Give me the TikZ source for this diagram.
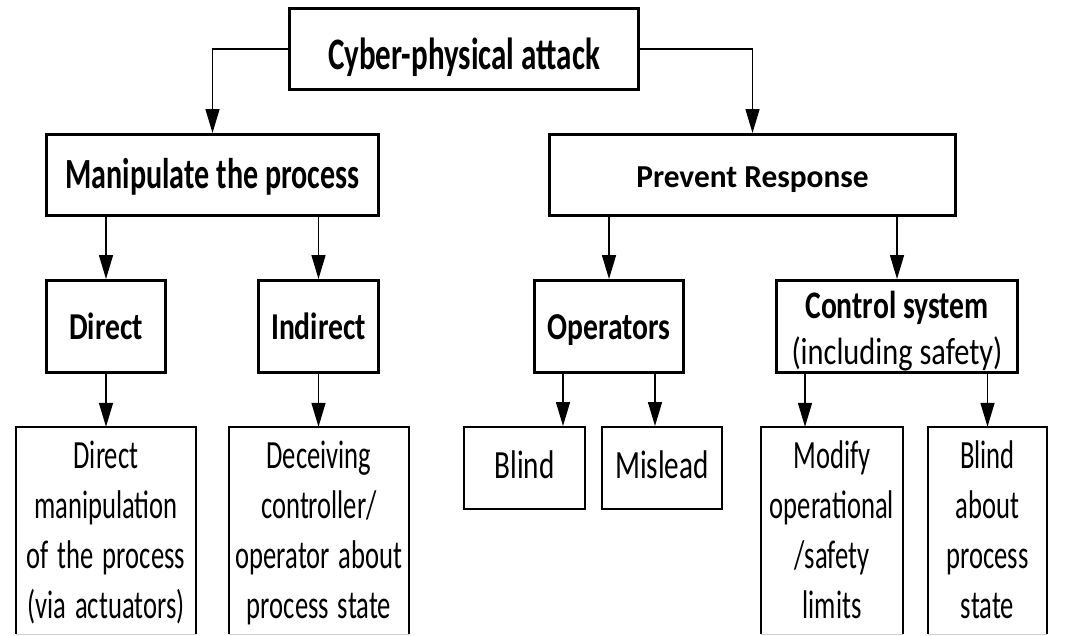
\documentclass[tikz,border=0pt]{standalone}
\usepackage{fontspec}
\setmainfont{Carlito}
\usetikzlibrary{arrows.meta,calc}
\newcommand\hsq[2]{\scalebox{#1}[1]{#2}}
\begin{document}
\begin{tikzpicture}[x=1pt,y=-1pt,
  hbox/.style={draw, line width=3pt, inner sep=0pt},
  lbox/.style={draw, line width=2pt, inner sep=0pt},
  obox/.style={draw=none, inner sep=0pt},
  oside/.style={line width=2pt},
  gedge/.style={line width=1.2pt, black!18},
  arr/.style={line width=1.5pt, -{Triangle[length=24pt,width=14pt]}},
  txt/.style={inner sep=0pt, anchor=base},
  bfa/.style={txt, font=\fontsize{45}{50}\selectfont\bfseries},
  bfb/.style={txt, font=\fontsize{43}{50}\selectfont\bfseries},
  bfc/.style={txt, font=\fontsize{32}{40}\selectfont\bfseries},
  bfd/.style={txt, font=\fontsize{38}{45}\selectfont\bfseries},
  rg/.style={txt, font=\fontsize{40}{50}\selectfont, align=center},
  ml/.style={txt, font=\fontsize{40}{50}\selectfont, align=center, text width=#1}
]
\useasboundingbox (0,0) rectangle (1073,635);
\fill[white] (0,0) rectangle (1073,635);

% level 1
\node[hbox, minimum width=349pt, minimum height=81pt] (top) at (464,49) {};
\node[bfa] (toptxt) at (464,69) {\hsq{0.69}{Cyber-physical attack}};

% level 2
\node[hbox, minimum width=332pt, minimum height=81pt] (manip) at (212.5,175) {};
\node[bfb] (maniptxt) at (212.5,188) {\hsq{0.70}{Manipulate the process}};
\node[hbox, minimum width=406pt, minimum height=81pt] (prev) at (752.5,175) {};
\node[bfc] (prevtxt) at (752.5,187) {\hsq{0.98}{Prevent Response}};

% level 3
\node[hbox, minimum width=119pt, minimum height=92pt] (dir) at (106,326.5) {};
\node[bfd] (dirtxt) at (106,339) {\hsq{0.78}{Direct}};
\node[hbox, minimum width=120pt, minimum height=92pt] (ind) at (318.5,326.5) {};
\node[bfd] (indtxt) at (318.5,339) {\hsq{0.78}{Indirect}};
\node[hbox, minimum width=149pt, minimum height=92pt] (ops) at (609,326.5) {};
\node[bfd] (opstxt) at (609,339) {\hsq{0.78}{Operators}};
\node[hbox, minimum width=241pt, minimum height=92pt] (ctrl) at (897,326.5) {};
\node[txt, font=\fontsize{39}{45}\selectfont\bfseries] (ctrltxt) at (897,318) {\hsq{0.76}{Control system}};
\node[txt, font=\fontsize{38}{45}\selectfont] (ctrlsub) at (897,364) {\hsq{0.80}{(including safety)}};

% level 4
\node[obox, minimum width=180pt, minimum height=207pt] (dm) at (106,530.5) {};
\node[obox, minimum width=180pt, minimum height=207pt] (dc) at (319,530.5) {};
\node[lbox, minimum width=121pt, minimum height=82pt] (bl) at (524.5,468) {};
\node[lbox, minimum width=120pt, minimum height=82pt] (mi) at (662,468) {};
\node[obox, minimum width=142pt, minimum height=207pt] (mo) at (832,530.5) {};
\node[obox, minimum width=119pt, minimum height=207pt] (ba) at (987.5,530.5) {};
\foreach \b in {dm,dc,mo,ba}{
  \draw[oside] (\b.south west) -- (\b.north west) -- (\b.north east) -- (\b.south east);
  \draw[gedge] (\b.south west) -- (\b.south east);
}

\node[ml=180pt] (dmtxt) at (106,468) {\hsq{0.665}{Direct}\\\hsq{0.665}{manipulation}\\\hsq{0.665}{of the process}\\\hsq{0.665}{(via actuators)}};
\node[ml=180pt] (dctxt) at (319,468) {\hsq{0.665}{Deceiving}\\\hsq{0.665}{controller/}\\\hsq{0.665}{operator about}\\\hsq{0.665}{process state}};
\node[rg] (bltxt) at (524.5,478) {\hsq{0.73}{Blind}};
\node[rg] (mitxt) at (662,478) {\hsq{0.73}{Mislead}};
\node[ml=142pt] (motxt) at (832,468) {\hsq{0.665}{Modify}\\\hsq{0.665}{operational}\\\hsq{0.665}{/safety}\\\hsq{0.665}{limits}};
\node[ml=119pt] (batxt) at (987.5,468) {\hsq{0.665}{Blind}\\\hsq{0.665}{about}\\\hsq{0.665}{process}\\\hsq{0.665}{state}};

% connectors
\coordinate (opl) at (563,0);
\coordinate (opr) at (655,0);
\coordinate (ctl) at (805,0);
\draw[arr] (top.west) -| (manip.north);
\draw[arr] (top.east) -| (prev.north);
\draw[arr] (manip.south -| dir.north) -- (dir.north);
\draw[arr] (manip.south -| ind.north) -- (ind.north);
\draw[arr] (prev.south -| ops.north) -- (ops.north);
\draw[arr] (prev.south -| ctrl.north) -- (ctrl.north);
\draw[arr] (dir.south) -- (dm.north -| dir.south);
\draw[arr] (ind.south) -- (dc.north -| ind.south);
\draw[arr] (ops.south -| opl) -- (bl.north -| opl);
\draw[arr] (ops.south -| opr) -- (mi.north -| opr);
\draw[arr] (ctrl.south -| ctl) -- (mo.north -| ctl);
\draw[arr] (ctrl.south -| ba.north) -- (ba.north);
\end{tikzpicture}
\end{document}
